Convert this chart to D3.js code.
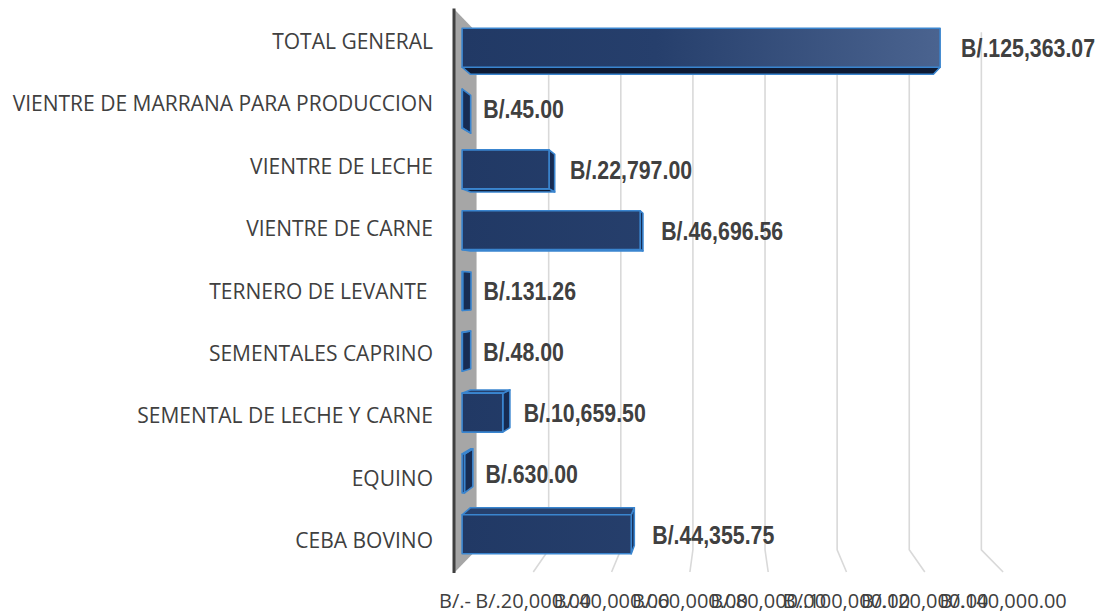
<!DOCTYPE html>
<html>
<head>
<meta charset="utf-8">
<script src="https://cdn.jsdelivr.net/npm/d3@7"></script>
<style>
  html, body { margin: 0; padding: 0; background: #ffffff; }
  svg { display: block; }
</style>
</head>
<body>
<svg id="chart" width="1102" height="614"></svg>
<script>
// Categories, top to bottom
const categories = [
  "TOTAL GENERAL",
  "VIENTRE DE MARRANA PARA PRODUCCION",
  "VIENTRE DE LECHE",
  "VIENTRE DE CARNE",
  "TERNERO DE LEVANTE ",
  "SEMENTALES CAPRINO",
  "SEMENTAL DE LECHE Y CARNE",
  "EQUINO",
  "CEBA BOVINO"
];
// Amounts in balboas
const values = [125363.07, 45.00, 22797.00, 46696.56, 131.26, 48.00, 10659.50, 630.00, 44355.75];
// Value axis ticks
const tickValues = [0, 20000, 40000, 60000, 80000, 100000, 120000, 140000];
const tickLabels = ["B/.-", "B/.20,000.00", "B/.40,000.00", "B/.60,000.00", "B/.80,000.00",
                    "B/.100,000.00", "B/.120,000.00", "B/.140,000.00"];

const svg = d3.select("#chart");

// Front plane scales (depth z = 0)
const x = d3.scaleLinear().domain([0, 140000]).range([455, 1003.1]);
const y = d3.scaleBand().domain(categories).range([10, 572]).paddingInner(0.36).paddingOuter(0.18);

// Perspective: points recede toward the vanishing point as depth grows
const VX = 728, VY = 291, K = 0.079;
function proj(xf, yf, z) {
  const s = 1 - K * z;
  return [VX + (xf - VX) * s, VY + (yf - VY) * s];
}
const line = d3.line();
const poly = pts => line(pts.map(p => proj(p[0], p[1], p[2]))) + "Z";

const defs = svg.append("defs");
const grad = defs.append("linearGradient")
  .attr("id", "barFront").attr("gradientUnits", "userSpaceOnUse")
  .attr("x1", 463).attr("y1", 0).attr("x2", 945).attr("y2", 0);
grad.append("stop").attr("offset", 0).attr("stop-color", "#213965");
grad.append("stop").attr("offset", 0.4).attr("stop-color", "#263f6c");
grad.append("stop").attr("offset", 1).attr("stop-color", "#4b6490");

const [x0, x1] = x.range();
const [yTop, yBot] = y.range();

// Back wall gridlines and their floor continuation
const grid = svg.append("g").attr("fill", "none").attr("stroke", "#d9d9d9").attr("stroke-width", 1.6);
tickValues.slice(1).forEach(v => {
  const pts = [proj(x(v), yTop, 1), proj(x(v), yBot, 1), proj(x(v), yBot, 0)];
  grid.append("path").attr("d", line(pts));
});

// Side wall
svg.append("path")
  .attr("d", poly([[x0, yTop, 0], [x0, yTop, 1], [x0, yBot, 1], [x0, yBot, 0]]))
  .attr("fill", "#a6a6a6");
svg.append("line")
  .attr("x1", x0 - 1).attr("x2", x0 - 1).attr("y1", yTop - 1.5).attr("y2", yBot + 1)
  .attr("stroke", "#404040").attr("stroke-width", 3);

// Bars
const z0 = 0.33, z1 = 0.72;
const bars = svg.append("g")
  .attr("stroke", "#3a85cf").attr("stroke-width", 1.6).attr("stroke-linejoin", "round");

categories.forEach((c, i) => {
  const xa = x(0), xb = x(values[i]);
  const ya = y(c), yb = y(c) + y.bandwidth();
  const g = bars.append("g");
  if (xb < VX) {
    g.append("path").attr("fill", "#172c53")
      .attr("d", poly([[xb, ya, z0], [xb, ya, z1], [xb, yb, z1], [xb, yb, z0]]));
  }
  if (ya > VY) {
    g.append("path").attr("fill", "#26406d")
      .attr("d", poly([[xa, ya, z0], [xb, ya, z0], [xb, ya, z1], [xa, ya, z1]]));
  }
  if (yb < VY) {
    g.append("path").attr("fill", "#0e1a33")
      .attr("d", poly([[xa, yb, z0], [xb, yb, z0], [xb, yb, z1], [xa, yb, z1]]));
  }
  g.append("path").attr("fill", "url(#barFront)")
    .attr("d", poly([[xa, ya, z0], [xb, ya, z0], [xb, yb, z0], [xa, yb, z0]]));
});

// Data labels (bold, horizontally condensed)
const fmt = d3.format(",.2f");
svg.append("g")
  .selectAll("text").data(categories).join("text")
  .attr("transform", (c, i) => {
    const tx = proj(x(values[i]), 0, z0)[0] + 21;
    const ty = proj(0, y(c) + y.bandwidth() / 2, z0)[1];
    return `translate(${tx},${ty}) scale(0.82,1)`;
  })
  .attr("dy", "0.36em")
  .attr("font-family", "'Liberation Sans', Arial, sans-serif")
  .attr("font-weight", "bold")
  .attr("font-size", 26)
  .attr("fill", "#404040")
  .text((c, i) => "B/." + fmt(values[i]));

// Category labels
svg.append("g")
  .selectAll("text").data(categories).join("text")
  .attr("x", 433)
  .attr("y", c => y(c) + y.bandwidth() / 2)
  .attr("dy", "0.36em")
  .attr("text-anchor", "end")
  .attr("xml:space", "preserve")
  .style("white-space", "pre")
  .attr("font-family", "'Open Sans', sans-serif")
  .attr("font-size", 21)
  .attr("fill", "#404040")
  .text(c => c);

// Value axis labels along the front edge of the floor
svg.append("g")
  .selectAll("text").data(tickValues).join("text")
  .attr("x", v => x(v))
  .attr("y", 608)
  .attr("text-anchor", "middle")
  .attr("font-family", "'Open Sans', sans-serif")
  .attr("font-size", 20)
  .attr("fill", "#404040")
  .text((v, i) => tickLabels[i]);
</script>
</body>
</html>
